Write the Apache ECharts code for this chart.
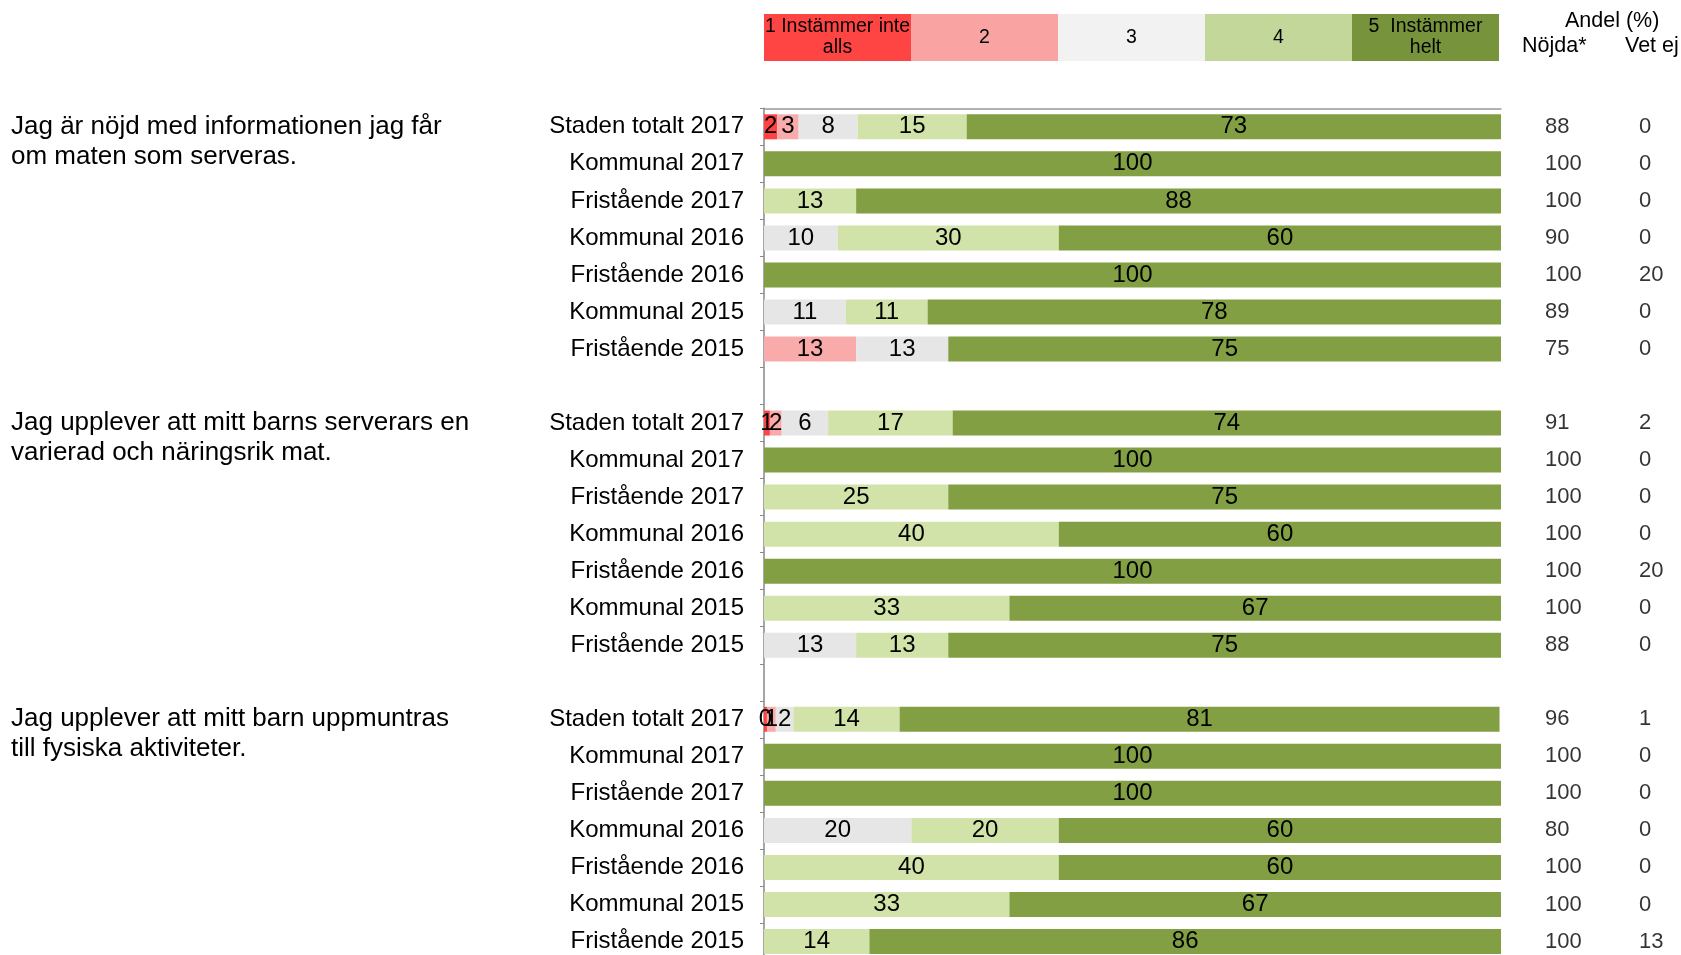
<!DOCTYPE html>
<html>
<head>
<meta charset="utf-8">
<script src="https://cdn.jsdelivr.net/npm/echarts@6/dist/echarts.min.js"></script>
<style>
  html, body { margin: 0; padding: 0; background: #fff; overflow: hidden; }
  #main { width: 1681px; height: 965px; }
</style>
</head>
<body>
<div id="main"></div>
<script>
// frågor (en per grupp)
var questions = [
  'Jag är nöjd med informationen jag får\nom maten som serveras.',
  'Jag upplever att mitt barns serverars en\nvarierad och näringsrik mat.',
  'Jag upplever att mitt barn uppmuntras\ntill fysiska aktiviteter.'
];
var rowLabels = ['Staden totalt 2017', 'Kommunal 2017', 'Fristående 2017', 'Kommunal 2016',
  'Fristående 2016', 'Kommunal 2015', 'Fristående 2015'];
var levelNames = ['1 Instämmer inte\nalls', '2', '3', '4', '5  Instämmer\nhelt'];

// andel (%) per svarsalternativ, 7 rader per fråga
var level1 = [1.8, 0, 0, 0, 0, 0, 0,
  0.8, 0, 0, 0, 0, 0, 0,
  0.4, 0, 0, 0, 0, 0, 0];
var level2 = [2.9, 0, 0, 0, 0, 0, 12.5,
  1.6, 0, 0, 0, 0, 0, 0,
  1.2, 0, 0, 0, 0, 0, 0];
var level3 = [8, 0, 0, 10, 0, 11.1, 12.5,
  6.3, 0, 0, 0, 0, 0, 12.5,
  2.4, 0, 0, 20, 0, 0, 0];
var level4 = [14.8, 0, 12.5, 30, 0, 11.1, 0,
  16.9, 0, 25, 40, 0, 33.3, 12.5,
  14.4, 0, 0, 20, 40, 33.3, 14.3];
var level5 = [72.5, 100, 87.5, 60, 100, 77.8, 75,
  74.4, 100, 75, 60, 100, 66.7, 75,
  81.4, 100, 100, 60, 60, 66.7, 85.7];
var nojda = [88, 100, 100, 90, 100, 89, 75,
  91, 100, 100, 100, 100, 100, 88,
  96, 100, 100, 80, 100, 100, 100];
var vetEj = [0, 0, 0, 0, 20, 0, 0,
  2, 0, 0, 0, 20, 0, 0,
  1, 0, 0, 0, 0, 0, 13];

var barColors = ['#FF4343', '#F9ABAB', '#E6E6E6', '#D1E3A8', '#82A043'];
var legendColors = ['#FF4444', '#F9A3A3', '#F2F2F2', '#C4D79B', '#77933C'];

var FONT = '"Liberation Sans", Arial, sans-serif';
var GRID_TOP = 108.3;
var ROW_H = 37.03;

// lägg in en tom rad mellan grupperna
function withGaps(arr) {
  var out = [];
  for (var g = 0; g < 3; g++) {
    for (var r = 0; r < 7; r++) {
      out.push(arr[g * 7 + r]);
    }
    if (g < 2) out.push(null);
  }
  return out;
}

var rowIds = [];
var rowText = [];
for (var g = 0; g < 3; g++) {
  for (var r = 0; r < 7; r++) {
    rowIds.push('r' + rowIds.length);
    rowText.push(rowLabels[r]);
  }
  if (g < 2) {
    rowIds.push('r' + rowIds.length);
    rowText.push('');
  }
}

var levels = [level1, level2, level3, level4, level5];
var series = [];
levels.forEach(function (lv, i) {
  series.push({
    name: 'niva' + (i + 1),
    type: 'bar',
    stack: 'total',
    xAxisIndex: 0,
    yAxisIndex: 0,
    barWidth: 25,
    itemStyle: { color: barColors[i] },
    label: {
      show: true,
      position: 'inside',
      color: '#000',
      fontFamily: FONT,
      fontSize: 24,
      formatter: function (p) {
        return p.value ? Math.round(p.value) : '';
      }
    },
    data: withGaps(lv)
  });
});

// legendrutor överst
levelNames.forEach(function (name, i) {
  series.push({
    name: 'legend' + (i + 1),
    type: 'bar',
    stack: 'legend',
    xAxisIndex: 1,
    yAxisIndex: 1,
    barWidth: '100%',
    itemStyle: { color: legendColors[i] },
    label: {
      show: true,
      position: 'inside',
      color: '#000',
      fontFamily: FONT,
      fontSize: 19.5,
      lineHeight: 21,
      formatter: name
    },
    data: [1]
  });
});

// kolumnerna Nöjda* och Vet ej
function columnData(arr, col) {
  var padded = withGaps(arr);
  var out = [];
  padded.forEach(function (v, idx) {
    if (v !== null) out.push([col, idx, v]);
  });
  return out;
}
[nojda, vetEj].forEach(function (arr, col) {
  series.push({
    name: col === 0 ? 'Nöjda' : 'Vet ej',
    type: 'scatter',
    xAxisIndex: 2,
    yAxisIndex: 2,
    symbolSize: 0,
    label: {
      show: true,
      position: 'right',
      distance: 0,
      color: '#000',
      fontFamily: FONT,
      fontSize: 22,
      formatter: function (p) { return p.value[2]; }
    },
    data: columnData(arr, col)
  });
});

var graphics = [
  { type: 'text', left: 1565, top: 10, style: { text: 'Andel (%)', font: '21.5px ' + FONT, fill: '#000' } },
  { type: 'text', left: 1522, top: 35, style: { text: 'Nöjda*', font: '21.5px ' + FONT, fill: '#000' } },
  { type: 'text', left: 1625, top: 35, style: { text: 'Vet ej', font: '21.5px ' + FONT, fill: '#000' } }
];
questions.forEach(function (q, g) {
  var center = GRID_TOP + (g * 8 + 0.5) * ROW_H;
  graphics.push({
    type: 'text',
    left: 11,
    top: center - 15,
    style: { text: q, font: '26px ' + FONT, fill: '#000', lineHeight: 30 }
  });
});

var chart = echarts.init(document.getElementById('main'));
chart.setOption({
  animation: false,
  backgroundColor: '#fff',
  grid: [
    { left: 764, top: GRID_TOP, width: 737, height: ROW_H * 23 },
    { left: 764, top: 14, width: 735, height: 47 },
    { left: 1545, top: GRID_TOP, width: 94, height: ROW_H * 23 }
  ],
  xAxis: [
    {
      gridIndex: 0, type: 'value', min: 0, max: 100, position: 'top',
      axisLine: { show: true, lineStyle: { color: '#999', width: 1.5 } },
      axisTick: { show: false }, axisLabel: { show: false }, splitLine: { show: false }
    },
    { gridIndex: 1, type: 'value', min: 0, max: 5, show: false },
    { gridIndex: 2, type: 'value', min: 0, max: 1, show: false }
  ],
  yAxis: [
    {
      gridIndex: 0, type: 'category', inverse: true, data: rowIds,
      axisLine: { show: true, lineStyle: { color: '#888', width: 1.5 } },
      axisTick: { show: true, length: 4, lineStyle: { color: '#888' } },
      axisLabel: {
        margin: 20, color: '#000', fontFamily: FONT, fontSize: 24,
        formatter: function (v, idx) { return rowText[idx]; }
      }
    },
    { gridIndex: 1, type: 'category', data: ['legend'], show: false },
    { gridIndex: 2, type: 'category', inverse: true, data: rowIds, show: false }
  ],
  graphic: graphics,
  series: series
});
</script>
</body>
</html>
